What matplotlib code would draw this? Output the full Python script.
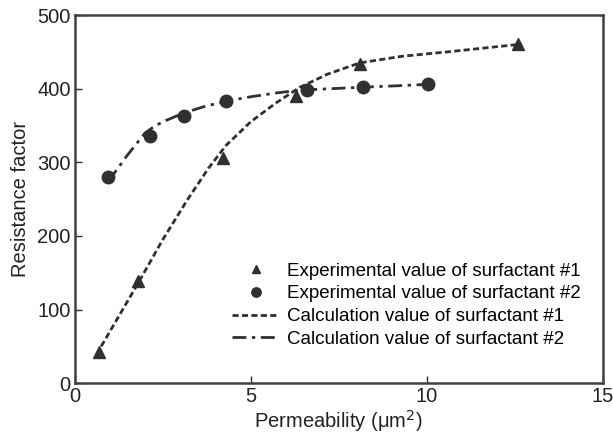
import matplotlib.pyplot as plt

plt.rcParams['font.family'] = ['Liberation Sans', 'DejaVu Sans']

# experimental points
exp1_x = [0.7, 1.8, 4.2, 6.3, 8.1, 12.6]
exp1_y = [42, 139, 306, 390, 433, 461]
exp2_x = [0.95, 2.15, 3.1, 4.3, 6.6, 8.2, 10.05]
exp2_y = [280, 336, 363, 383, 398, 402, 406]

# calculated curves
calc1_x = [0.75, 1.3, 1.85, 2.5, 3.2, 3.8, 4.3, 5.0, 5.7, 6.4, 7.2, 8.1, 9.3, 10.6, 11.6, 12.6]
calc1_y = [50, 95, 140, 195, 249, 292, 323, 355, 380, 402, 420, 435, 444, 450, 455, 460]
calc2_x = [0.95, 1.5, 2.0, 2.3, 2.6, 3.1, 3.7, 4.3, 5.0, 5.7, 6.4, 7.3, 8.2, 9.2, 10.1]
calc2_y = [274, 310, 340, 350, 357, 367, 376, 383, 389, 394, 398, 400, 402, 404, 406]

col = '#303030'

fig, ax = plt.subplots(figsize=(6.13, 4.42), dpi=100)
fig.subplots_adjust(left=0.122, right=0.983, top=0.966, bottom=0.133)

ax.plot(exp1_x, exp1_y, '^', color=col, ms=8, ls='none', label='Experimental value of surfactant #1')
ax.plot(exp2_x, exp2_y, 'o', color=col, ms=9, ls='none', label='Experimental value of surfactant #2')
ax.plot(calc1_x, calc1_y, color=col, lw=2, dashes=(2.2, 1.2), label='Calculation value of surfactant #1')
ax.plot(calc2_x, calc2_y, color=col, lw=2, dashes=(5, 2, 1.2, 2), label='Calculation value of surfactant #2')

ax.set_xlim(0, 15)
ax.set_ylim(0, 500)
ax.set_xticks([0, 5, 10, 15])
ax.set_yticks([0, 100, 200, 300, 400, 500])
ax.tick_params(direction='in', length=5, width=1, colors=col, labelcolor='#222222', labelsize=14.5, pad=3)
for s in ax.spines.values():
    s.set_color('#404040')
    s.set_linewidth(1.8)

ax.set_xlabel('Permeability (μm$^2$)', fontsize=14.5, color='#222222', labelpad=1)
ax.set_ylabel('Resistance factor', fontsize=14.5, color='#222222', labelpad=5)

ax.legend(loc='lower right', bbox_to_anchor=(0.99, 0.05), frameon=False, fontsize=13.5,
          handlelength=2.5, handletextpad=0.4, labelspacing=0.3, markerscale=0.75)

fig.savefig('out.png', dpi=100)
